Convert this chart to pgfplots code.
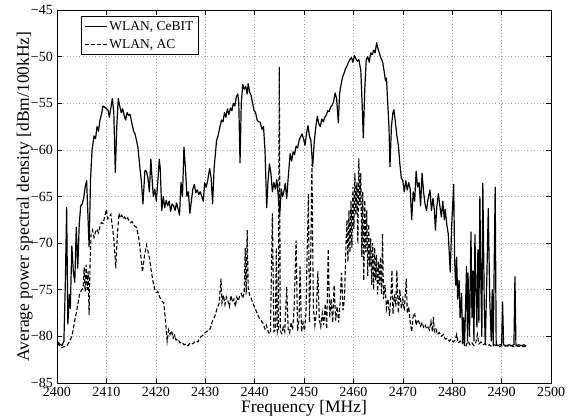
\documentclass[border=0pt]{standalone}
\usepackage{pgfplots}
\pgfplotsset{compat=1.18}
\usepackage{fontspec}
\setmainfont{Liberation Serif}
\begin{document}
\begin{tikzpicture}
\useasboundingbox (-57pt,-34pt) rectangle (515pt,383pt);
\begin{axis}[
  at={(0,0)}, anchor=south west,
  scale only axis, width=494pt, height=373pt,
  xmin=2400, xmax=2500, ymin=-85, ymax=-45,
  xtick={2400,2410,2420,2430,2440,2450,2460,2470,2480,2490,2500},
  xticklabels={2400,2410,2420,2430,2440,2450,2460,2470,2480,2490,2500},
  ytick={-85,-80,-75,-70,-65,-60,-55,-50,-45},
  yticklabels={−85,−80,−75,−70,−65,−60,−55,−50,−45},
  tick label style={font=\fontsize{14}{14}\selectfont, inner sep=0pt},
  xticklabel shift=4pt, yticklabel shift=4pt,
  tick align=inside, major tick length=5pt,
  tick style={black, line width=0.6pt},
  axis line style={line width=0.9pt},
  grid=major,
  major grid style={gray!70, line width=0.6pt, dash pattern=on 1pt off 2.2pt},
  xlabel={Frequency [MHz]},
  ylabel={Average power spectral density [dBm/100kHz]},
  label style={font=\fontsize{17.5}{17.5}\selectfont},
  xlabel style={at={(axis description cs:0.5,-0.0804)}, anchor=base},
  ylabel style={at={(axis description cs:-0.0567,0.5)}, anchor=base},
  legend style={at={(axis description cs:0.048,0.984)}, anchor=north west,
    draw=black, line width=0.9pt, fill=white,
    font=\fontsize{13.5}{13.5}\selectfont, inner sep=3pt, row sep=3.5pt},
  legend cell align=left,
  legend image code/.code={\draw[#1] (0pt,0pt) -- (22pt,0pt);},
]
\addplot[black, line width=1.2pt, line join=round] coordinates {
(2400,-80.5)(2400.5,-80.8)(2401,-81)(2401.4,-80.5)(2401.7,-74)(2401.95,-66.2)(2402.2,-78.7)(2402.5,-75.5)(2402.7,-77)(2403,-70.3)(2403.3,-73)(2403.6,-74.2)(2403.9,-68.3)(2404.2,-72.7)(2404.5,-68)(2404.8,-66)(2405.1,-65.8)(2405.4,-65.2)(2405.7,-64)(2406,-63.3)(2406.5,-70.4)(2406.8,-63)(2407.1,-60)(2407.5,-58.5)(2407.8,-58.8)(2408.1,-57.5)(2408.4,-58)(2408.7,-56.8)(2409,-56.2)(2409.3,-55.3)(2409.6,-55.4)(2410,-55.6)(2410.3,-55.7)(2410.6,-56.5)(2410.9,-55.5)(2411.2,-54.5)(2411.5,-56)(2411.8,-62.4)(2412.1,-57.5)(2412.4,-54.5)(2412.7,-55.3)(2413,-56)(2413.3,-55.6)(2413.6,-56.3)(2413.9,-56.8)(2414.2,-56)(2414.5,-56.3)(2414.8,-56.2)(2415.1,-57)(2415.5,-58)(2415.8,-58.3)(2416.1,-59)(2416.4,-59.8)(2416.8,-62)(2417.1,-63.5)(2417.4,-65.8)(2417.8,-62.2)(2418.1,-62.3)(2418.4,-63)(2418.7,-64.5)(2419,-61)(2419.3,-63.5)(2419.5,-65)(2419.8,-64.2)(2420.1,-65.5)(2420.4,-63.5)(2420.7,-61)(2420.9,-62)(2421.2,-66.5)(2421.5,-65)(2421.8,-66.2)(2422.1,-65.4)(2422.4,-66)(2422.7,-65.5)(2423,-66.6)(2423.3,-65.8)(2423.6,-66)(2423.9,-66.5)(2424.2,-65.7)(2424.5,-66.3)(2424.8,-67)(2425.1,-63.5)(2425.4,-65)(2425.7,-59.7)(2426,-62)(2426.3,-65)(2426.6,-64.5)(2426.9,-66.8)(2427.2,-65.5)(2427.5,-64.2)(2427.8,-63.7)(2428.1,-64.6)(2428.4,-64.3)(2428.7,-64.8)(2429,-64.5)(2429.3,-65)(2429.6,-65.5)(2429.9,-63.5)(2430.2,-64)(2430.5,-63.3)(2430.9,-62)(2431.2,-63)(2431.5,-65.8)(2431.8,-62)(2432.3,-59)(2432.6,-58.5)(2433,-57.5)(2433.3,-56.8)(2433.6,-57)(2433.9,-56)(2434.2,-56.5)(2434.5,-55.6)(2434.8,-56.2)(2435.1,-55.5)(2435.4,-55.8)(2435.7,-55)(2436,-55.3)(2436.3,-54.3)(2436.6,-54)(2436.8,-55)(2437.05,-61.4)(2437.3,-55)(2437.6,-53)(2437.9,-53.5)(2438.2,-53.2)(2438.5,-54)(2438.7,-52.9)(2439,-53.8)(2439.3,-54.2)(2439.6,-55)(2439.9,-55.8)(2440.2,-56)(2440.5,-56.8)(2440.8,-57)(2441.1,-57)(2441.5,-57.8)(2441.8,-57.5)(2442.1,-60)(2442.45,-66.2)(2442.7,-63.5)(2443,-61.5)(2443.3,-62.5)(2443.6,-64.5)(2443.9,-63.5)(2444.2,-64.2)(2444.5,-63.2)(2444.8,-65)(2445.1,-66.8)(2445.4,-64.2)(2445.7,-65)(2446,-64.3)(2446.2,-63.6)(2446.5,-65.2)(2446.8,-63)(2447.2,-60.4)(2447.5,-61.2)(2447.8,-60.2)(2448.1,-60.5)(2448.4,-59.6)(2448.7,-59.8)(2449,-59)(2449.3,-58.6)(2449.6,-58.3)(2449.9,-58.8)(2450.2,-59.5)(2450.5,-58.3)(2450.8,-57.4)(2451.1,-58.5)(2451.4,-59)(2451.75,-61.8)(2452.1,-59)(2452.4,-57.5)(2452.7,-56.4)(2453,-57.2)(2453.3,-57.5)(2453.6,-56.7)(2453.9,-57)(2454.2,-56.5)(2454.5,-56.3)(2454.8,-55.8)(2455.1,-55.9)(2455.4,-55.4)(2455.7,-55.2)(2456,-54.8)(2456.3,-53.9)(2456.6,-54.5)(2456.95,-57.1)(2457.2,-54)(2457.5,-53)(2457.8,-52.2)(2458.1,-51.8)(2458.4,-51.3)(2458.7,-51)(2459,-50.6)(2459.3,-50.3)(2459.6,-50.1)(2459.9,-50.6)(2460.2,-49.9)(2460.5,-50.2)(2460.8,-50.5)(2461.1,-50.3)(2461.5,-51.5)(2461.8,-55.5)(2462,-58.7)(2462.3,-53.5)(2462.6,-50.3)(2462.9,-50)(2463.2,-50.6)(2463.5,-49.6)(2463.8,-49.8)(2464.1,-49.3)(2464.4,-49.6)(2464.7,-48.5)(2465,-49.2)(2465.3,-49.7)(2465.6,-50.2)(2465.9,-50.5)(2466.2,-51.5)(2466.5,-52.6)(2466.7,-52.3)(2466.9,-54.5)(2467.2,-57.5)(2467.4,-61.8)(2467.7,-57.5)(2468,-56)(2468.2,-55.7)(2468.5,-57)(2468.8,-58.5)(2469.1,-59.5)(2469.4,-61.5)(2469.7,-63)(2470,-63.3)(2470.3,-64.5)(2470.6,-63.3)(2470.9,-64.3)(2471.2,-63.5)(2471.5,-64.2)(2471.8,-67.5)(2472.1,-64.5)(2472.4,-65.5)(2472.7,-62.3)(2473,-64)(2473.3,-63.5)(2473.6,-66)(2473.9,-62.5)(2474.2,-64.5)(2474.5,-65.8)(2474.8,-66.5)(2475.1,-65.3)(2475.5,-64.3)(2475.8,-66.5)(2476.1,-65.2)(2476.4,-66.5)(2476.6,-68.6)(2476.9,-66)(2477.2,-64.7)(2477.5,-66)(2477.8,-67.2)(2478.1,-65.5)(2478.4,-67.5)(2478.6,-66.4)(2478.9,-68)(2479.2,-69)(2479.6,-73.1)(2479.9,-68)(2480.3,-63.7)(2480.5,-72)(2480.7,-74.5)(2480.9,-71.5)(2481.1,-76)(2481.4,-74)(2481.6,-78)(2481.9,-75.4)(2482.1,-80.8)(2482.3,-78)(2482.5,-81)(2482.9,-72.5)(2483.1,-80.5)(2483.2,-73.2)(2483.5,-80)(2483.8,-68.8)(2484,-78)(2484.2,-73)(2484.4,-80.5)(2484.6,-69.1)(2484.8,-75)(2485,-79)(2485.2,-70.7)(2485.4,-78.5)(2485.6,-65)(2485.8,-74)(2486,-80)(2486.2,-63.6)(2486.5,-77)(2486.7,-80.8)(2487,-74)(2487.3,-66.3)(2487.6,-76)(2487.9,-80.5)(2488.1,-75)(2488.3,-81)(2488.7,-64)(2488.9,-80.8)(2489.2,-81)(2489.6,-80.9)(2490,-80.9)(2490.2,-76.3)(2490.4,-80.9)(2491,-81)(2491.5,-80.9)(2492,-81)(2492.5,-80.9)(2492.7,-73.6)(2492.9,-81)(2493.5,-80.9)(2494,-81)(2494.5,-80.9)(2495,-81)
};
\addlegendentry{WLAN, CeBIT}
\addplot[black, line width=1.1pt, dash pattern=on 4pt off 2.2pt] coordinates {
(2400,-80.7)(2400.5,-81)(2401,-81.2)(2401.5,-81.1)(2402,-81)(2402.5,-80.6)(2403,-80)(2403.3,-79.2)(2403.6,-78.3)(2404,-77.2)(2404.3,-76.3)(2404.6,-75.4)(2405,-75)(2405.3,-74.8)(2405.5,-72.6)(2405.7,-75.2)(2405.9,-72.3)(2406.1,-75)(2406.3,-73)(2406.5,-77.7)(2406.7,-72)(2406.9,-69)(2407.2,-68.6)(2407.5,-69.4)(2407.8,-68.8)(2408.1,-68.5)(2408.4,-68.9)(2408.7,-68.2)(2409,-67.8)(2409.3,-67.9)(2409.6,-67.3)(2410,-66.4)(2410.3,-67.4)(2410.6,-67.2)(2410.9,-66.9)(2411.2,-68.2)(2411.5,-69.5)(2411.9,-72.7)(2412.2,-69.3)(2412.55,-66.8)(2412.8,-67.3)(2413.1,-67)(2413.4,-67.4)(2413.7,-67.2)(2414,-67.5)(2414.3,-67.3)(2414.6,-67.6)(2414.9,-67.8)(2415.2,-67.7)(2415.5,-68)(2415.8,-68.2)(2416.1,-68.3)(2416.5,-69.3)(2416.8,-70.5)(2417.3,-73.1)(2417.7,-71.4)(2418.1,-70.2)(2418.4,-70.8)(2418.7,-71.6)(2419,-72.7)(2419.4,-74)(2419.8,-75)(2420.1,-75.3)(2420.4,-75.2)(2420.8,-75.8)(2421.2,-76.2)(2421.6,-76.4)(2422,-78.5)(2422.3,-80.5)(2422.6,-79.3)(2422.9,-79.8)(2423.2,-79.4)(2423.5,-80.2)(2423.8,-79.9)(2424.1,-80.4)(2424.5,-80.3)(2424.9,-80.7)(2425.3,-80.6)(2425.7,-80.9)(2426.1,-80.8)(2426.5,-81)(2427,-80.7)(2427.5,-80.8)(2428,-80.5)(2428.5,-80.6)(2429,-80.1)(2429.5,-79.9)(2430,-79.6)(2430.5,-79.4)(2431,-79.2)(2431.5,-78.3)(2432,-77.8)(2432.4,-77)(2432.8,-76.5)(2433.2,-73.8)(2433.4,-76.4)(2433.7,-75.6)(2434,-76.6)(2434.3,-75.8)(2434.6,-76.2)(2434.9,-76.8)(2435.2,-75.6)(2435.5,-76.3)(2435.8,-76)(2436.1,-76.8)(2436.4,-75.8)(2436.7,-76.2)(2437,-75.6)(2437.3,-75.4)(2437.6,-75.9)(2437.9,-75.3)(2438.1,-70.5)(2438.3,-75.5)(2438.5,-68.6)(2438.7,-74.8)(2439,-75.6)(2439.3,-75.9)(2439.7,-76.5)(2440.1,-77)(2440.5,-77.5)(2440.9,-78)(2441.3,-78.3)(2441.7,-78.6)(2442.1,-79.2)(2442.4,-78.8)(2442.8,-79.6)(2443.2,-79.7)(2443.6,-66.8)(2443.9,-79.5)(2444.2,-79.3)(2444.4,-70.5)(2444.6,-79.6)(2444.8,-79.2)(2445,-51.1)(2445.2,-79.4)(2445.5,-79.7)(2445.8,-79)(2446.1,-79.5)(2446.5,-74.7)(2446.8,-79.2)(2447.1,-79.6)(2447.4,-78.5)(2447.7,-79.3)(2448,-77)(2448.4,-69.7)(2448.7,-79.4)(2449,-78.2)(2449.2,-72.5)(2449.5,-79.5)(2449.8,-78.5)(2450.1,-79.4)(2450.4,-77.5)(2450.6,-72)(2450.9,-64.7)(2451.1,-78.5)(2451.3,-74)(2451.6,-61.5)(2451.9,-77)(2452.2,-78.8)(2452.5,-77.5)(2452.8,-73)(2453.1,-78.2)(2453.4,-79)(2453.7,-77.5)(2454,-78.8)(2454.3,-76.5)(2454.6,-79.2)(2454.9,-70.6)(2455.2,-78)(2455.5,-76)(2455.8,-78.5)(2456.1,-74.5)(2456.4,-78.3)(2456.7,-76.8)(2457,-78.5)(2457.3,-76.5)(2457.6,-73.2)(2457.9,-77.2)(2458.2,-76)(2458.5,-70)(2458.7,-67.5)(2458.9,-72)(2459.1,-66.5)(2459.3,-71)(2459.5,-65.5)(2459.7,-70.5)(2459.9,-64)(2460.1,-68.5)(2460.3,-62.5)(2460.5,-67)(2460.7,-63.5)(2460.9,-70)(2461.1,-60.9)(2461.3,-66)(2461.5,-62.5)(2461.7,-71.5)(2461.9,-64.5)(2462.1,-74)(2462.3,-65.4)(2462.5,-71)(2462.7,-66.5)(2462.9,-73.5)(2463.1,-68)(2463.3,-72.5)(2463.5,-69.5)(2463.7,-74.5)(2463.9,-70)(2464.1,-75)(2464.3,-70.5)(2464.5,-74)(2464.7,-71.3)(2464.9,-75.5)(2465.1,-72)(2465.3,-74.5)(2465.5,-71.5)(2465.7,-75.5)(2465.9,-69)(2466.1,-76)(2466.4,-74.5)(2466.7,-77)(2467,-76)(2467.3,-77.8)(2467.6,-75.5)(2467.8,-72.9)(2468,-77.6)(2468.3,-75.5)(2468.6,-76.8)(2468.8,-72.9)(2469.1,-77.5)(2469.4,-75)(2469.7,-77)(2470,-76)(2470.3,-77.2)(2470.7,-73.8)(2470.9,-77.5)(2471.2,-76.8)(2471.5,-78.5)(2471.8,-79.5)(2472.1,-77.8)(2472.4,-77.5)(2472.7,-78.8)(2473,-78.2)(2473.3,-78.5)(2473.6,-78.9)(2473.9,-78.5)(2474.2,-79)(2474.5,-78.7)(2474.8,-79.2)(2475.1,-79)(2475.4,-79.3)(2475.7,-78.4)(2476,-79.5)(2476.2,-77.9)(2476.4,-79.5)(2476.7,-79.2)(2477,-79.8)(2477.4,-79.6)(2477.8,-80)(2478.2,-79.8)(2478.6,-80.3)(2479,-80.2)(2479.4,-80.5)(2479.8,-80.3)(2480.2,-80.6)(2480.6,-80.4)(2480.9,-79.8)(2481.2,-80.7)(2481.6,-80.5)(2482,-80.8)(2482.4,-80.6)(2482.8,-81)(2483.2,-80.5)(2483.6,-80.9)(2484,-80.7)(2484.4,-81)(2484.8,-80.6)(2485.1,-79.8)(2485.4,-80.8)(2485.8,-80.6)(2486.2,-80.9)(2486.6,-80.8)(2487,-81)(2487.5,-80.9)(2488,-81.1)(2488.5,-80.9)(2489,-81)(2489.5,-81.1)(2490,-81)(2490.5,-81.1)(2491,-81)(2491.5,-81.1)(2492,-81)(2492.5,-81.1)(2493,-81)(2493.5,-81.1)(2494,-81)(2494.5,-81.1)(2495,-81.1)
};
\addlegendentry{WLAN, AC}
\end{axis}
\end{tikzpicture}
\end{document}
